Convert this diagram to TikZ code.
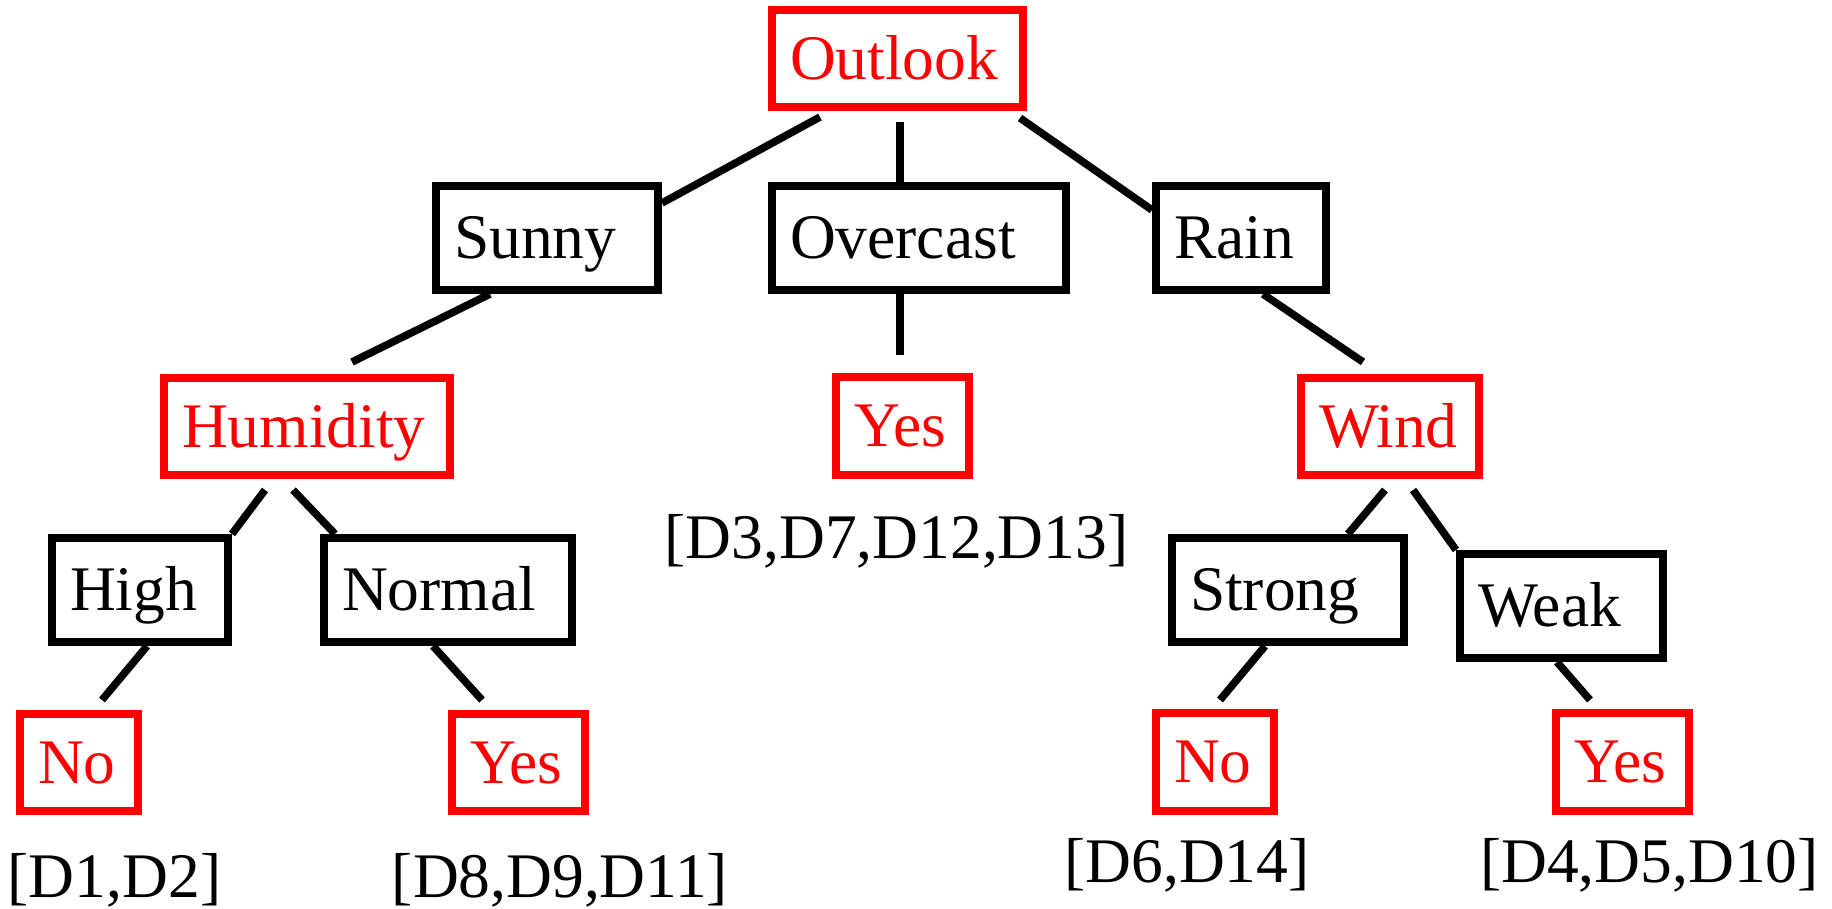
\documentclass[tikz,border=0pt]{standalone}
\usepackage{fontspec}
\setmainfont{Liberation Serif}
\definecolor{leafred}{RGB}{255,0,0}

\begin{document}
\begin{tikzpicture}[x=1pt,y=-1pt,
  every node/.style={font=\fontsize{63.5}{70}\selectfont},
  box/.style={draw, line width=7.6pt, inner xsep=18.2pt, inner ysep=0pt,
              align=left, text height=41.6pt, text depth=0pt},
  attr/.style={box, draw=black, text=black, minimum height=104.5pt},
  decision/.style={box, draw=leafred, text=leafred, minimum height=97.5pt},
  edge/.style={line width=7.6pt, draw=black},
  examples/.style={anchor=base, inner sep=0pt, text=black}
]
\useasboundingbox (0,0) rectangle (1832,909);

% tree nodes: red = tests and decisions, black = attribute values
\node[decision, text width=215pt] (outlook)  at (897.5,58.5) {Outlook};
\node[attr,     text width=186pt] (sunny)    at (547,238)    {Sunny};
\node[attr,     text width=258pt] (overcast) at (919,238)    {Overcast};
\node[attr,     text width=134pt] (rain)     at (1241,238)   {Rain};
\node[decision, text width=250pt] (humidity) at (307,426.5)  {Humidity};
\node[decision, text width=97pt]  (yesmid)   at (902.5,426)  {Yes};
\node[decision, text width=142pt] (wind)     at (1390,426.5) {Wind};
\node[attr,     text width=140pt] (high)     at (140,590)    {High};
\node[attr,     text width=212pt] (normal)   at (448,590)    {Normal};
\node[attr,     text width=196pt] (strong)   at (1288,590)   {Strong};
\node[attr,     text width=167pt] (weak)     at (1561.5,606) {Weak};
\node[decision, text width=82pt]  (nohigh)   at (79,762.5)   {No};
\node[decision, text width=97pt]  (yesnorm)  at (518.5,762.5){Yes};
\node[decision, text width=82pt]  (nostrong) at (1215,762)   {No};
\node[decision, text width=97pt]  (yesweak)  at (1622.5,762) {Yes};

% example sets under the leaves
\node[examples] (exmid)    at (896.5,558) {[D3,D7,D12,D13]};
\node[examples] (exhigh)   at (114.5,897) {[D1,D2]};
\node[examples] (exnorm)   at (560,897)   {[D8,D9,D11]};
\node[examples] (exstrong) at (1187,882)  {[D6,D14]};
\node[examples] (exweak)   at (1649.5,882){[D4,D5,D10]};

% loose ends of the branches
\coordinate (tOS)  at (820,117);
\coordinate (tOO)  at (900,122);
\coordinate (tOR)  at (1020,118);
\coordinate (tSH)  at (352,362);
\coordinate (tOY)  at (900,355);
\coordinate (tRW)  at (1363,362);
\coordinate (tHH)  at (265,490);
\coordinate (tHN)  at (293,490);
\coordinate (tHiN) at (102,700);
\coordinate (tNY)  at (482,700);
\coordinate (tWS)  at (1385,490);
\coordinate (tWW)  at (1413,490);
\coordinate (tSN)  at (1220,700);
\coordinate (tWY)  at (1590,700);

% branches
\draw[edge] (tOS) -- ([yshift=35pt]sunny.east);
\draw[edge] (tOO) -- ([xshift=-19pt]overcast.north);
\draw[edge] (tOR) -- ([yshift=28pt]rain.west);
\draw[edge] ([xshift=-57pt]sunny.south) -- (tSH);
\draw[edge] ([xshift=-19pt]overcast.south) -- (tOY);
\draw[edge] ([xshift=22pt]rain.south) -- (tRW);
\draw[edge] (tHH) -- (high.north east);
\draw[edge] (tHN) -- ([xshift=-113pt]normal.north);
\draw[edge] ([xshift=7pt]high.south) -- (tHiN);
\draw[edge] ([xshift=-15pt]normal.south) -- (tNY);
\draw[edge] (tWS) -- ([xshift=60pt]strong.north);
\draw[edge] (tWW) -- (weak.north west);
\draw[edge] ([xshift=-23pt]strong.south) -- (tSN);
\draw[edge] ([xshift=-4.5pt]weak.south) -- (tWY);
\end{tikzpicture}
\end{document}
